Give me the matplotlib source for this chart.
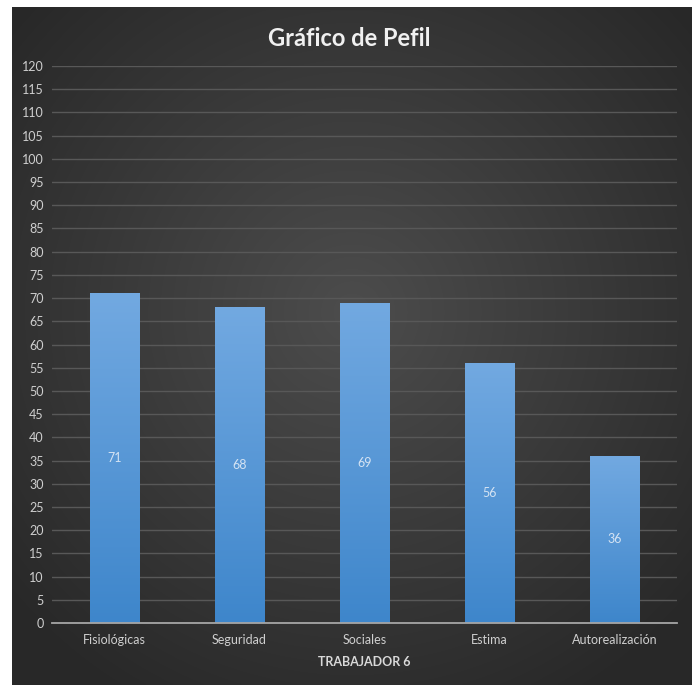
import numpy as np
import matplotlib
matplotlib.use("Agg")
from matplotlib import pyplot

categories = ['Fisiológicas', 'Seguridad', 'Sociales', 'Estima', 'Autorealización']
values = [71, 68, 69, 56, 36]
yticks = list(range(0, 121, 5))

pyplot.rcParams['font.family'] = ['Lato', 'DejaVu Sans']

W, H = 698, 685
fig = pyplot.figure(figsize=(W / 100, H / 100), dpi=100)
fig.patch.set_facecolor('white')

# dark radial background panel
bg = fig.add_axes([12 / W, 0, 680 / W, 1 - 7 / H])
yy, xx = np.mgrid[-1:1:300j, -1:1:300j]
r = np.sqrt(xx ** 2 + (yy + 0.1) ** 2)
shade = 0.30 - 0.14 * np.clip(r / 1.3, 0, 1)
bg.imshow(np.dstack([shade, shade, shade]), aspect='auto', extent=[0, 1, 0, 1], interpolation='bilinear')
bg.set_axis_off()

ax = fig.add_axes([52 / W, (H - 623) / H, 625 / W, 557 / H])
ax.set_facecolor('none')
x = np.arange(len(categories))
bars = ax.bar(x, values, width=0.4, color='#5b9bd5', zorder=3)

# vertical gradient inside each bar
grad = np.linspace(0, 1, 256).reshape(-1, 1)
top = np.array([0x72, 0xa9, 0xe1]) / 255
bot = np.array([0x3e, 0x86, 0xcb]) / 255
img = bot + (top - bot) * grad[..., None]
for b in bars:
    im = ax.imshow(img, extent=[b.get_x(), b.get_x() + b.get_width(), 0, b.get_height()],
                   origin='lower', aspect='auto', zorder=4)
    im.set_clip_path(b)

for xi, v in zip(x, values):
    ax.text(xi, v / 2, str(v), ha='center', va='center', color='#d4e3f3', fontsize=9, zorder=5)

ax.set_xlim(-0.5, len(categories) - 0.5)
ax.set_ylim(0, 120)
ax.set_yticks(yticks)
ax.set_xticks(x)
ax.set_xticklabels(categories)
ax.tick_params(axis='both', length=0, colors='#cfcfcf', labelsize=9)
ax.tick_params(axis='y', pad=6)
ax.tick_params(axis='x', pad=8)
ax.grid(axis='y', color='#585858', linewidth=1, zorder=1)
for s in ['top', 'right', 'left']:
    ax.spines[s].set_visible(False)
ax.spines['bottom'].set_color('#a6a6a6')
ax.spines['bottom'].set_linewidth(1.3)
ax.spines['bottom'].set_zorder(6)

ax.set_xlabel('TRABAJADOR 6', color='#d9d9d9', fontsize=9, fontweight='bold', labelpad=7)
fig.text(0.5, 1 - 38 / H, 'Gráfico de Pefil', ha='center', va='center', color='#f0f0f0',
         fontsize=17, fontweight='bold')

pyplot.savefig('out.png', dpi=100, facecolor='white')
